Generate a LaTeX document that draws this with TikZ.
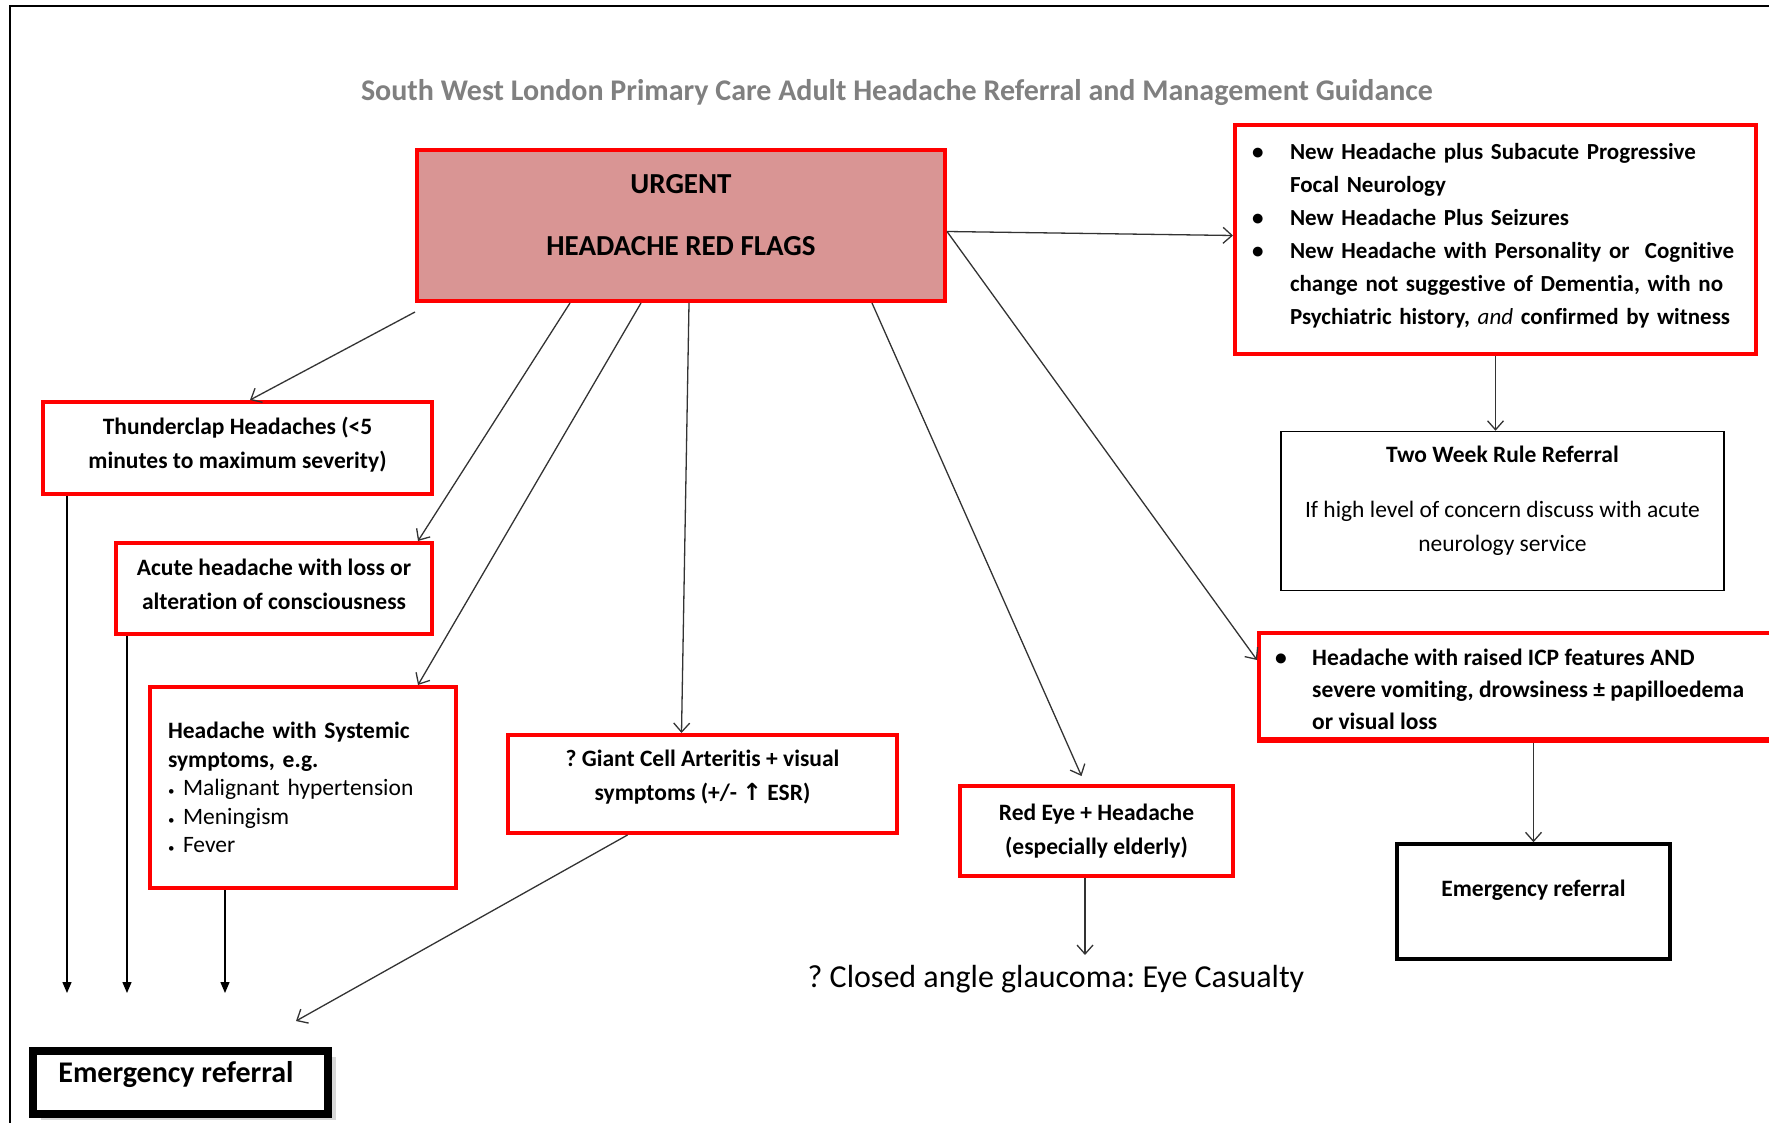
\documentclass[tikz,border=0pt]{standalone}
\usepackage{fontspec}
\setmainfont{Carlito}[Ligatures=NoCommon]
\newfontfamily\symfont{DejaVu Sans}
\usetikzlibrary{arrows.meta,positioning,calc,shadows}
\definecolor{urgentfill}{RGB}{217,149,148}
\definecolor{flagred}{RGB}{255,0,0}
\definecolor{titlegray}{RGB}{128,128,128}
\frenchspacing
\newcommand{\sbul}{\makebox[15pt][l]{\fontsize{13}{13}\selectfont\textbullet}}
\newcommand{\boxlift}[1]{\rule[-#1]{0pt}{0pt}}
\tikzset{
    redbox/.style={draw=flagred, line width=4pt, inner sep=0pt, align=center, font=\bfseries\fontsize{23.5}{34}\selectfont},
    blackbox/.style={draw=black, inner sep=0pt, align=center, font=\bfseries\fontsize{23.5}{34}\selectfont},
    link/.style={draw=black!80, line width=1.3pt, -{Straight Barb[length=9pt,width=16pt]}},
    drop/.style={draw=black, line width=1.3pt, -{Triangle[length=11pt,width=9pt]}}
}
\begin{document}
\begin{tikzpicture}[x=1pt,y=-1pt]
        \useasboundingbox (0,0) rectangle (1769,1123);
        % page frame
        \draw[line width=2pt] (10,1123) -- (10,6) -- (1769,6);

        \node[font=\bfseries\fontsize{30}{34}\selectfont, text=titlegray] (title) at (897,93) {South West London Primary Care Adult Headache Referral and Management Guidance};

        % the red flag box
        \node[redbox, fill=urgentfill, minimum width=528pt, minimum height=151pt, font=\bfseries\fontsize{29}{62}\selectfont] (urgent) at (681,225.5) {URGENT\\HEADACHE RED FLAGS\boxlift{22pt}};

        % left hand column
        \node[redbox, minimum width=389pt, minimum height=92pt] (thunder) at (237.5,448) {Thunderclap Headaches (<5\\minutes to maximum severity)\boxlift{11pt}};
        \node[redbox, minimum width=316pt, minimum height=91pt] (acute) at (274,588.5) {Acute headache with loss or\\alteration of consciousness\boxlift{9pt}};
        \node[redbox, minimum width=306pt, minimum height=201pt, text width=270pt, align=left, font=\fontsize{23.5}{28.5}\selectfont] (systemic) at (303,787.5) {\textbf{Headache with Systemic}\\\textbf{symptoms, e.g.}\\\sbul Malignant hypertension\\\sbul Meningism\\\sbul Fever};
        \node[redbox, minimum width=389pt, minimum height=98pt] (gca) at (702.5,784) {? Giant Cell Arteritis + visual\\symptoms (+/- {\symfont\bfseries ↑} ESR)\boxlift{17pt}};
        \node[redbox, minimum width=273pt, minimum height=90pt] (redeye) at (1096.5,831) {Red Eye + Headache\\(especially elderly)};
        \node[font=\fontsize{32}{38}\selectfont] (glaucoma) at (1056,979) {? Closed angle glaucoma: Eye Casualty};
        \node[blackbox, line width=8pt, fill=white, minimum width=295pt, minimum height=63pt, font=\bfseries\fontsize{30}{34}\selectfont, drop shadow={shadow xshift=8pt, shadow yshift=-6pt, fill=black!30}] (emleft) at (180.5,1082.5) {Emergency referral\hspace{9pt}\boxlift{22pt}};

        % right hand column
        \node[redbox, minimum width=521pt, minimum height=229pt, text width=487pt, align=left, inner xsep=17pt, font=\bfseries\fontsize{23}{33}\selectfont] (flags) at (1495.5,239.5) {\noindent\begin{tabular}{@{}p{38pt}@{}l@{}}
            \textbullet & New Headache plus Subacute Progressive\\
            & Focal Neurology\\
            \textbullet & New Headache Plus Seizures\\
            \textbullet & New Headache with Personality or\ \ Cognitive\\
            & change not suggestive of Dementia, with no\\
            & Psychiatric history, \textmd{\textit{and}} confirmed by witness\boxlift{18pt}
        \end{tabular}};
        \node[blackbox, line width=1.5pt, minimum width=443pt, minimum height=159pt] (twoweek) at (1502.5,511) {Two Week Rule Referral\\[21pt]\textmd{If high level of concern discuss with acute}\\\textmd{neurology service}\boxlift{25pt}};
        \node[redbox, minimum width=531pt, minimum height=108pt] (icp) at (1524.5,687) {};
        \begin{scope}
            \clip (icp.north west) rectangle ($(icp.south east)+(0,-13)$);
            \node[anchor=base west, inner sep=0pt, font=\bfseries\fontsize{23.5}{32}\selectfont] (icptext) at ($(icp.north west)+(18,34)$) {\begin{tabular}[t]{@{}p{37pt}@{}l@{}}
                \textbullet & Headache with raised ICP features AND\\
                & severe vomiting, drowsiness ± papilloedema\\
                & or visual loss
            \end{tabular}};
        \end{scope}
        \draw[flagred, line width=6pt] ($(icp.south west)+(0,-3)$) -- ($(icp.south east)+(0,-3)$);
        \node[blackbox, line width=3.5pt, minimum width=273pt, minimum height=115pt] (emright) at (1533.5,901.5) {Emergency referral\boxlift{27pt}};

        % arrows out of the red flag box
        \draw[link] ($(urgent.south west)+(0,9)$) -- ($(thunder.north)+(12.5,0)$);
        \draw[link] ($(urgent.south west)+(155,0)$) -- ($(acute.north east)+(-16,0)$);
        \draw[link] ($(urgent.south west)+(226,0)$) -- ($(systemic.north east)+(-40,0)$);
        \draw[link] ($(urgent.south)+(8,0)$) -- ($(gca.north)+(-21,0)$);
        \draw[link] ($(urgent.south east)+(-75,0)$) -- ($(redeye.north)+(-15,-8)$);
        \draw[link] ($(urgent.east)+(0,6)$) -- ($(flags.west)+(0,-4)$);
        \draw[link] ($(urgent.east)+(0,6)$) -- ($(icp.west)+(0,-27)$);

        \draw[link] (flags.south) -- (flags.south |- twoweek.north);
        \draw[link] (emright.north |- icp.south) -- (emright.north);
        \coordinate (eyetip) at (1085,955);
        \draw[link] (redeye.south -| eyetip) -- (eyetip);
        \coordinate (gcatip) at (296,1021);
        \draw[link] ($(gca.south)+(-75,0)$) -- (gcatip);

        % drops towards the emergency referral
        \coordinate (droptip1) at (67,993);
        \coordinate (droptip2) at (127,993);
        \coordinate (droptip3) at (225,993);
        \draw[drop] (thunder.south -| droptip1) -- (droptip1);
        \draw[drop] (acute.south -| droptip2) -- (droptip2);
        \draw[drop] (systemic.south -| droptip3) -- (droptip3);
\end{tikzpicture}
\end{document}
